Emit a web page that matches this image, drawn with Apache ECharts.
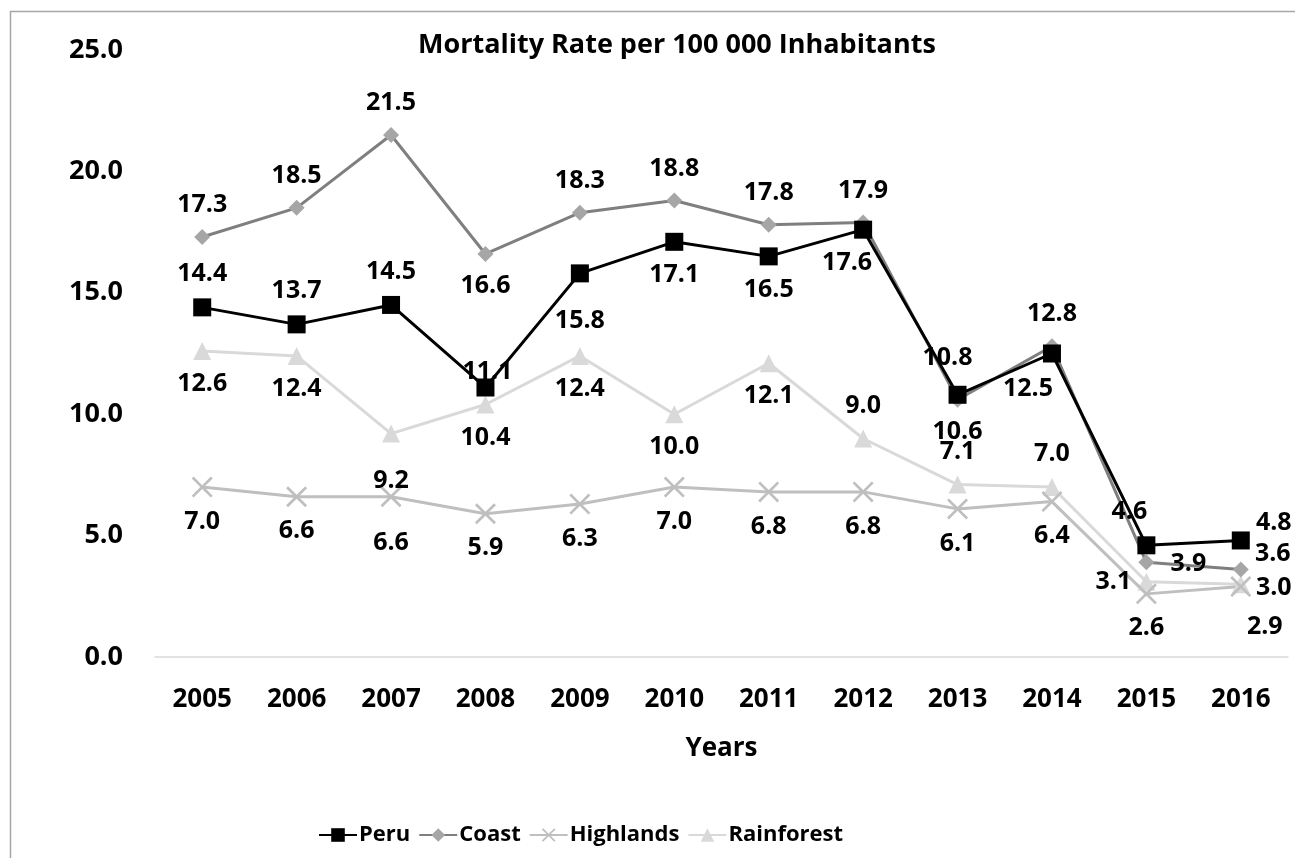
<!DOCTYPE html>
<html><head><meta charset="utf-8">
<script src="https://cdn.jsdelivr.net/npm/echarts@6/dist/echarts.min.js"></script>
<style>html,body{margin:0;padding:0;background:#fff;}#c{width:1295px;height:858px;}</style>
</head><body><div id="c"></div>
<script>
const years = ['2005','2006','2007','2008','2009','2010','2011','2012','2013','2014','2015','2016'];
const peru = [14.4, 13.7, 14.5, 11.1, 15.8, 17.1, 16.5, 17.6, 10.8, 12.5, 4.6, 4.8];
const coast = [17.3, 18.5, 21.5, 16.6, 18.3, 18.8, 17.8, 17.9, 10.6, 12.8, 3.9, 3.6];
const highlands = [7.0, 6.6, 6.6, 5.9, 6.3, 7.0, 6.8, 6.8, 6.1, 6.4, 2.6, 2.9];
const rainforest = [12.6, 12.4, 9.2, 10.4, 12.4, 10.0, 12.1, 9.0, 7.1, 7.0, 3.1, 3.0];
const yTicks = [0, 5, 10, 15, 20, 25];

// label placement (style only): T=above, B=below, R=right, L=left
const peruPos = ['T','T','T','T','B','B','B','B','T','B','T','R'];
const coastPos = ['T','T','T','B','T','T','T','T','B','T','R','R'];
const highPos = ['B','B','B','B','B','B','B','B','B','B','B','B'];
const rainPos = ['B','B','B','B','B','B','B','T','T','T','L','R'];
// extra label nudges [dx, dy] (style only)
const peruOff = {3: [2, 17], 4: [0, 14], 7: [-16, 0], 8: [-10, -4], 9: [-24, 2], 10: [-17, 0], 11: [0, -18]};
const coastOff = {10: [10, 2], 11: [0, -16]};
const highOff = {2: [0, 12], 11: [24, 6]};
const rainOff = {2: [0, 14], 11: [0, 4]};

const FONT = 'Open Sans';
const xPath = 'path://M0,0.9 L0.9,0 L5,4.1 L9.1,0 L10,0.9 L5.9,5 L10,9.1 L9.1,10 L5,5.9 L0.9,10 L0,9.1 L4.1,5 Z';

function baseOff(p, size) {
  const v = size / 2 + 24;
  if (p === 'T') return [0, -v];
  if (p === 'B') return [0, v];
  if (p === 'R') return [size / 2 + 24, 0];
  return [-(size / 2 + 24), 0];
}

function mk(name, vals, pos, off, lineColor, markColor, symbol, size) {
  return {
    name, type: 'line', symbol, symbolSize: size,
    lineStyle: {color: lineColor, width: 3},
    itemStyle: {color: markColor},
    data: vals.map((v, i) => {
      const b = baseOff(pos[i], size), e = off[i] || [0, 0];
      return {
        value: v,
        label: {show: true, position: 'inside', offset: [b[0] + e[0], b[1] + e[1]],
          formatter: p => p.value.toFixed(1), color: '#000', fontFamily: FONT, fontWeight: 'bold', fontSize: 25}
      };
    }),
    animation: false
  };
}

const chart = echarts.init(document.getElementById('c'));
chart.setOption({
  animation: false,
  graphic: [{type: 'rect', shape: {x: 10.5, y: 11.5, width: 1300, height: 900},
    style: {fill: 'none', stroke: '#a6a6a6', lineWidth: 1.5}, silent: true}],
  title: {text: 'Mortality Rate per 100 000 Inhabitants', left: 413, top: 27,
    textStyle: {fontFamily: FONT, fontWeight: 'bold', fontSize: 27, color: '#000'}},
  grid: {left: 155, right: 7, top: 50, bottom: 201},
  legend: {left: 313, top: 819, itemWidth: 38, itemHeight: 17, itemGap: 8,
    textStyle: {fontFamily: FONT, fontWeight: 'bold', fontSize: 22, color: '#000', padding: [0,0,0,-3]},
    data: ['Peru','Coast','Highlands','Rainforest']},
  xAxis: {type: 'category', data: years, boundaryGap: true,
    name: 'Years', nameLocation: 'middle', nameGap: 79,
    nameTextStyle: {fontFamily: FONT, fontWeight: 'bold', fontSize: 26, color: '#000'},
    axisLine: {lineStyle: {color: '#d9d9d9', width: 1.5}}, axisTick: {show: false},
    axisLabel: {fontFamily: FONT, fontWeight: 'bold', fontSize: 26, color: '#000', margin: 30}},
  yAxis: {type: 'value', min: yTicks[0], max: yTicks[yTicks.length-1], interval: 5,
    axisLine: {show: false}, axisTick: {show: false}, splitLine: {show: false},
    axisLabel: {fontFamily: FONT, fontWeight: 'bold', fontSize: 27, color: '#000', margin: 32,
      formatter: v => v.toFixed(1)}},
  series: [
    mk('Rainforest', rainforest, rainPos, rainOff, '#d9d9d9', '#d9d9d9', 'triangle', 18),
    mk('Highlands', highlands, highPos, highOff, '#bfbfbf', '#bfbfbf', xPath, 21),
    mk('Coast', coast, coastPos, coastOff, '#7f7f7f', '#a6a6a6', 'diamond', 16),
    mk('Peru', peru, peruPos, peruOff, '#000000', '#000000', 'rect', 18)
  ]
});
</script></body></html>
